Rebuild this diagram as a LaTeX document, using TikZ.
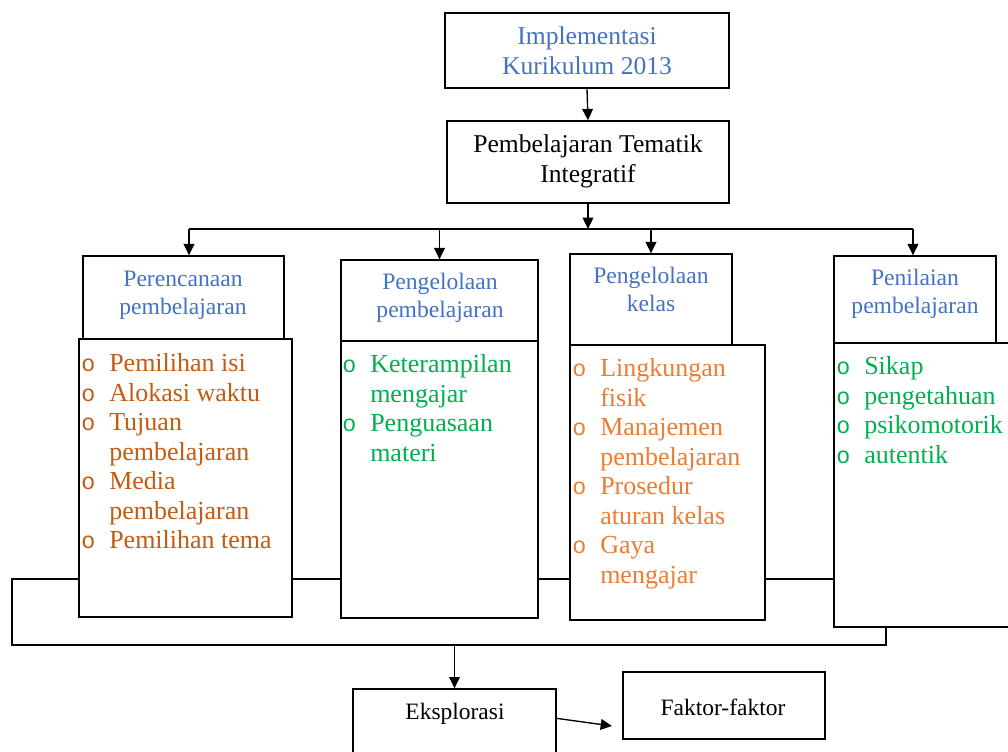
\documentclass[tikz,border=0pt]{standalone}
\usepackage{fontspec}
\setmainfont{Liberation Serif}
\newfontfamily\bulfont{Liberation Mono}
\usetikzlibrary{arrows.meta,backgrounds,fit}
\definecolor{hblue}{RGB}{68,114,196}
\definecolor{dorange}{RGB}{197,90,17}
\definecolor{lorange}{RGB}{237,125,49}
\definecolor{lgreen}{RGB}{0,176,80}
\newcommand{\bl}{\makebox[21pt][l]{{\bulfont\fontsize{17.5}{17.5}\selectfont o}}}
\tikzset{
  box/.style={draw, line width=1pt, fill=white, inner sep=0pt},
  line/.style={line width=1pt},
  arr/.style={line width=1pt, -{Triangle[width=8pt,length=8.5pt]}},
  txt/.style={inner sep=0pt, anchor=base},
  listtxt/.style={inner sep=0pt, anchor=base west, font=\fontsize{19.5}{22.1}\selectfont},
  bigtxt/.style={txt, font=\fontsize{19.2}{22.5}\selectfont},
  headtxt/.style={txt, text=hblue, font=\fontsize{17.7}{20.6}\selectfont},
  smalltxt/.style={txt, font=\fontsize{17.6}{20}\selectfont}
}
\begin{document}
\begin{tikzpicture}[x=0.75pt,y=-0.75pt]
\path[use as bounding box, clip] (0,0) rectangle (1008,752);
% boxes
\node[box, fit={(445,13) (729,88)}] (top) {};
\node[box, fit={(447,121) (729,203)}] (integ) {};
\node[box, fit={(83,256) (284,339)}] (h1) {};
\node[box, fit={(79,339) (292,617)}] (c1) {};
\node[box, fit={(341,260) (538,341)}] (h2) {};
\node[box, fit={(341,341) (538,618)}] (c2) {};
\node[box, fit={(570,254) (732,345)}] (h3) {};
\node[box, fit={(570,345) (765,620)}] (c3) {};
\node[box, fit={(834,256) (996,343)}] (h4) {};
\node[box, fit={(834,343) (1020,627)}] (c4) {};
\node[box, fit={(353,689) (556,790)}] (eks) {};
\node[box, fit={(623,672) (825,739)}] (fak) {};
% texts
\node[bigtxt, text=hblue] (ttop) at (587,45) {\begin{tabular}[t]{@{}c@{}}Implementasi\\Kurikulum 2013\end{tabular}};
\node[bigtxt] (tinteg) at (588,153) {\begin{tabular}[t]{@{}c@{}}Pembelajaran Tematik\\Integratif\end{tabular}};
\node[headtxt] (th1) at (183,287) {\begin{tabular}[t]{@{}c@{}}Perencanaan\\pembelajaran\end{tabular}};
\node[headtxt] (th2) at (440,290) {\begin{tabular}[t]{@{}c@{}}Pengelolaan\\pembelajaran\end{tabular}};
\node[headtxt] (th3) at (651,284) {\begin{tabular}[t]{@{}c@{}}Pengelolaan\\kelas\end{tabular}};
\node[headtxt] (th4) at (915,286) {\begin{tabular}[t]{@{}c@{}}Penilaian\\pembelajaran\end{tabular}};
\node[listtxt, text=dorange] (l1) at (81,372) {\begin{tabular}[t]{@{}l@{}l@{}}
\bl & Pemilihan isi\\
\bl & Alokasi waktu\\
\bl & Tujuan\\
 & pembelajaran\\
\bl & Media\\
 & pembelajaran\\
\bl & Pemilihan tema
\end{tabular}};
\node[listtxt, text=lgreen] (l2) at (342,373) {\begin{tabular}[t]{@{}l@{}l@{}}
\bl & Keterampilan\\
 & mengajar\\
\bl & Penguasaan\\
 & materi
\end{tabular}};
\node[listtxt, text=lorange] (l3) at (572,377) {\begin{tabular}[t]{@{}l@{}l@{}}
\bl & Lingkungan\\
 & fisik\\
\bl & Manajemen\\
 & pembelajaran\\
\bl & Prosedur\\
 & aturan kelas\\
\bl & Gaya\\
 & mengajar
\end{tabular}};
\node[listtxt, text=lgreen] (l4) at (836,375) {\begin{tabular}[t]{@{}l@{}l@{}}
\bl & Sikap\\
\bl & pengetahuan\\
\bl & psikomotorik\\
\bl & autentik
\end{tabular}};
\node[smalltxt] (teks) at (455,719) {Eksplorasi};
\node[smalltxt] (tfak) at (723,715) {Faktor-faktor};
% connectors
\coordinate (busL) at (189,229);
\coordinate (busR) at (913,229);
\coordinate (loopTL) at (12,579);
\coordinate (loopBL) at (12,645);
\coordinate (loopBR) at (886,645);
\coordinate (fakin) at (612,726);
\draw[arr] (top.south) -- (integ.north);
\draw[line] (busL) -- (busR);
\draw[arr] (integ.south) -- (integ.south |- busL);
\draw[arr] (busL) -- (busL |- h1.north);
\draw[arr] (h2.north |- busL) -- (h2.north);
\draw[arr] (h3.north |- busL) -- (h3.north);
\draw[arr] (busR) -- (busR |- h4.north);
\draw[arr] (eks.north |- loopBL) -- (eks.north);
\draw[arr] ([yshift=-22.5pt]eks.north east) -- (fakin);
\begin{scope}[on background layer]
\fill[white] (0,0) rectangle (1008,752);
\draw[line] (c4.west |- loopTL) -- (loopTL) -- (loopBL) -- (loopBR) -- (loopBR |- c4.south);
\end{scope}
\end{tikzpicture}
\end{document}
